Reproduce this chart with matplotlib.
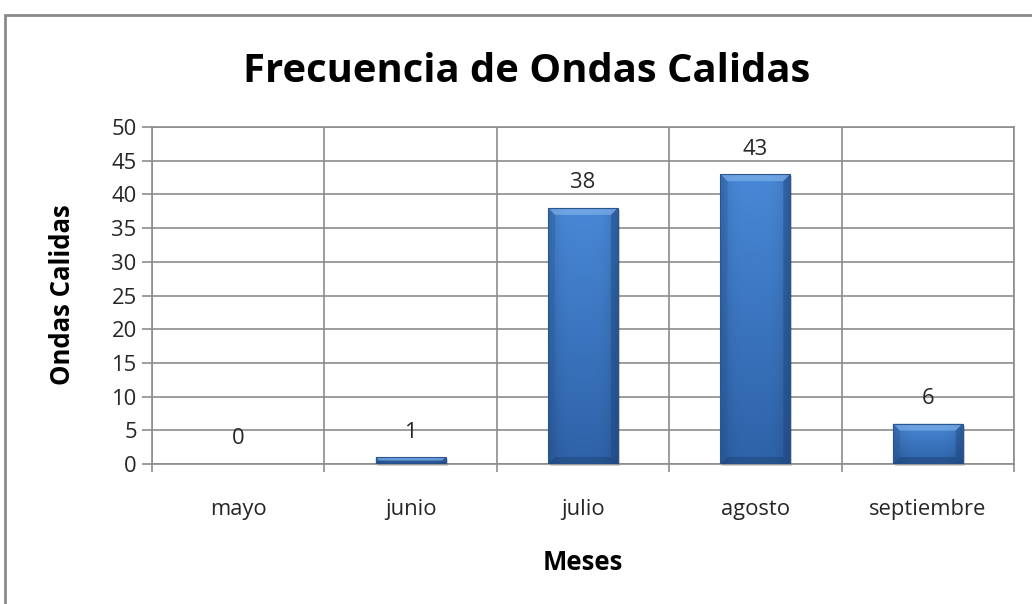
import numpy as np
import matplotlib
matplotlib.use('Agg')
import matplotlib.pyplot as plt
from matplotlib.patches import Rectangle, Polygon

# ---- data ----
months = ['mayo', 'junio', 'julio', 'agosto', 'septiembre']
waves = [0, 1, 38, 43, 6]
y_ticks = [0, 5, 10, 15, 20, 25, 30, 35, 40, 45, 50]
title = 'Frecuencia de Ondas Calidas'
xlabel = 'Meses'
ylabel = 'Ondas Calidas'

plt.rcParams['font.family'] = ['Open Sans', 'DejaVu Sans']
W, H = 1032, 604
fig = plt.figure(figsize=(W / 100, H / 100), dpi=100)
fig.patch.set_facecolor('white')

# plot area in pixels
L, R, T, B = 152, 1014, 127, 464
ax = fig.add_axes([L / W, 1 - B / H, (R - L) / W, (B - T) / H])
ax.set_xlim(-0.5, len(months) - 0.5)
ax.set_ylim(y_ticks[0], y_ticks[-1])

grid_c = '#8c8c8c'
text_c = '#262626'
tick_fs = 15.8
for s in ax.spines.values():
    s.set_color(grid_c)
    s.set_linewidth(1.2)

ax.set_yticks(y_ticks)
ax.set_yticklabels([str(v) for v in y_ticks], fontsize=tick_fs, color=text_c)
ax.set_xticks(range(len(months)))
ax.set_xticklabels(months, fontsize=tick_fs, color=text_c)
ax.set_xticks(np.arange(-0.5, len(months), 1), minor=True)
ax.tick_params(axis='x', which='major', length=0, pad=25)
ax.tick_params(axis='x', which='minor', length=6, color=grid_c, width=1.2)
ax.tick_params(axis='y', length=7, color=grid_c, width=1.2, pad=4)
ax.grid(axis='y', which='major', color=grid_c, linewidth=1.2, zorder=0)
ax.grid(axis='x', which='minor', color=grid_c, linewidth=1.2, zorder=0)
ax.set_axisbelow(True)

# ---- bars with gradient/bevel ----
bw = 0.405
top_c = np.array([72, 136, 214]) / 255
bot_c = np.array([46, 98, 168]) / 255
ny, nx = 200, 60
t = np.linspace(0, 1, ny)[:, None]
u = np.linspace(0, 1, nx)[None, :]
base = top_c[None, None, :] * (1 - t[..., None]) + bot_c[None, None, :] * t[..., None]
hf = 1 - 0.18 * np.abs(2 * u - 1) ** 4
img = np.clip(base * hf[..., None], 0, 1)

fig.canvas.draw()
inv = ax.transData.inverted()
dx_per_px = (inv.transform((1, 0)) - inv.transform((0, 0)))[0]
dy_per_px = (inv.transform((0, 1)) - inv.transform((0, 0)))[1]

for i, v in enumerate(waves):
    x0, x1 = i - bw / 2, i + bw / 2
    if v > 0:
        sh = Rectangle((x0 + 2 * dx_per_px, -2 * dy_per_px), bw, v,
                       facecolor='#000000', alpha=0.18, edgecolor='none', zorder=2, clip_on=False)
        ax.add_patch(sh)
        rect = Rectangle((x0, 0), bw, v, facecolor='none', edgecolor='#2a5590', linewidth=0.8, zorder=4)
        ax.add_patch(rect)
        im = ax.imshow(img, extent=(x0, x1, 0, v), aspect='auto', zorder=3,
                       interpolation='bilinear')
        im.set_clip_path(rect)
        hpx = v / dy_per_px
        d = min(7, hpx / 2)
        ddx, ddy = d * dx_per_px, d * dy_per_px
        ax.add_patch(Polygon([(x0, v), (x1, v), (x1 - ddx, v - ddy), (x0 + ddx, v - ddy)],
                             closed=True, facecolor='#8cbcf0', alpha=0.55, edgecolor='none', zorder=3.5))
        ax.add_patch(Polygon([(x0, 0), (x1, 0), (x1 - ddx, ddy), (x0 + ddx, ddy)],
                             closed=True, facecolor='#1d3f70', alpha=0.45, edgecolor='none', zorder=3.5))
        ax.add_patch(Polygon([(x0, 0), (x0, v), (x0 + ddx, v - ddy), (x0 + ddx, ddy)],
                             closed=True, facecolor='#2a5a9c', alpha=0.35, edgecolor='none', zorder=3.5))
        ax.add_patch(Polygon([(x1, 0), (x1, v), (x1 - ddx, v - ddy), (x1 - ddx, ddy)],
                             closed=True, facecolor='#1d4680', alpha=0.45, edgecolor='none', zorder=3.5))
    ax.annotate(str(v), (i, v), xytext=(0, 18), textcoords='offset points',
                ha='center', va='center', fontsize=tick_fs, color=text_c, zorder=5)

# ---- texts ----
fig.text(527 / W, 1 - 72 / H, title, ha='center', va='center', fontsize=28.8,
         fontweight='bold', color='black')
fig.text(583 / W, 1 - 563 / H, xlabel, ha='center', va='center', fontsize=18.5,
         fontweight='bold', color='black')
fig.text(63 / W, 1 - 295 / H, ylabel, ha='center', va='center', fontsize=18.5,
         fontweight='bold', color='black', rotation=90)

# chart border
border = Rectangle((4.5 / W, -0.1), 1.2, 1 - 15 / H + 0.1, transform=fig.transFigure,
                   facecolor='none', edgecolor='#8a8a8a', linewidth=2, zorder=0)
fig.add_artist(border)

fig.savefig('out.png', dpi=100)
